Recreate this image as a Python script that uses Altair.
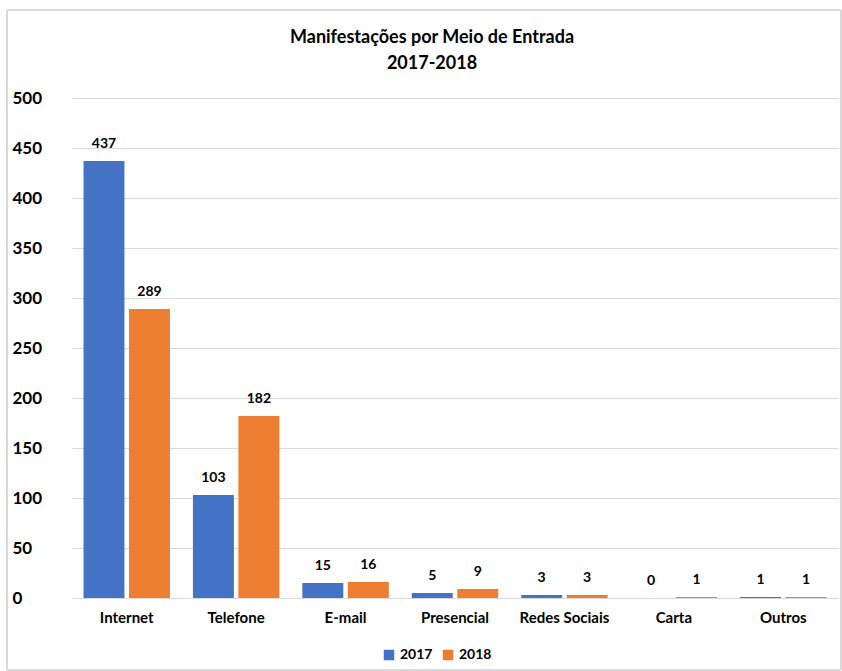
import altair as alt
import pandas as pd

categories = ["Internet", "Telefone", "E-mail", "Presencial", "Redes Sociais", "Carta", "Outros"]
years = ["2017", "2018"]
v2017 = [437, 103, 15, 5, 3, 0, 1]
v2018 = [289, 182, 16, 9, 3, 1, 1]
colors = ["#4472C4", "#ED7D31"]
title_lines = ["Manifestações por Meio de Entrada", "2017-2018"]

rows = []
for c, a, b in zip(categories, v2017, v2018):
    rows.append({"cat": c, "ano": "2017", "val": a})
    rows.append({"cat": c, "ano": "2018", "val": b})
df = pd.DataFrame(rows)

FONT = "Lato"

x = alt.X("cat:N", sort=categories, title=None,
          scale=alt.Scale(paddingInner=0.21, paddingOuter=0.105),
          axis=alt.Axis(labelAngle=0, labelFontSize=15, labelFontWeight="bold",
                        labelColor="#000000", labelPadding=12, ticks=False,
                        domainColor="#d9d9d9", grid=False, labelFont=FONT))
xo = alt.XOffset("ano:N", sort=years, scale=alt.Scale(paddingInner=0.1))
y = alt.Y("val:Q", title=None,
          scale=alt.Scale(domain=[0, 500], nice=False),
          axis=alt.Axis(values=list(range(0, 501, 50)), labelFontSize=17,
                        labelFontWeight="bold", labelColor="#000000",
                        labelAlign="left", labelPadding=60, ticks=False,
                        domain=False, gridColor="#d9d9d9", labelFont=FONT))
color = alt.Color("ano:N", sort=years, scale=alt.Scale(domain=years, range=colors),
                  legend=alt.Legend(title=None, orient="none", direction="horizontal",
                                    legendX=310, legendY=550, symbolType="square",
                                    symbolSize=110, labelFontSize=14, labelFontWeight="bold",
                                    labelFont=FONT, columnPadding=8, symbolOpacity=1))

bars = alt.Chart(df).mark_bar(opacity=1).encode(x=x, xOffset=xo, y=y, color=color)
labels = alt.Chart(df).mark_text(dy=-10, fontSize=14, fontWeight="bold", font=FONT,
                                 color="#000000", baseline="bottom").encode(
    x=x, xOffset=xo, y=y, text="val:Q")
border = alt.Chart(df).mark_rect(fill=None, stroke="#d9d9d9", strokeWidth=1).encode(
    x=alt.value(-65), x2=alt.value(769), y=alt.value(-88), y2=alt.value(572))

tdf = pd.DataFrame({"t": title_lines})
title1 = alt.Chart(pd.DataFrame({"t": [title_lines[0]]})).mark_text(
    fontSize=18, fontWeight="bold", font=FONT, color="#000000", align="center",
    baseline="middle").encode(x=alt.value(360), y=alt.value(-60), text="t:N")
title2 = alt.Chart(pd.DataFrame({"t": [title_lines[1]]})).mark_text(
    fontSize=18, fontWeight="bold", font=FONT, color="#000000", align="center",
    baseline="middle").encode(x=alt.value(360), y=alt.value(-34), text="t:N")

chart = alt.layer(border, bars, labels, title1, title2).properties(
    width=766, height=500,
    padding={"left": 72, "top": 98, "right": 4, "bottom": 73},
    autosize=alt.AutoSizeParams(type="none"),
).configure_view(stroke=None)

chart.save("out.html", embed_options={"renderer": "svg", "actions": False})
